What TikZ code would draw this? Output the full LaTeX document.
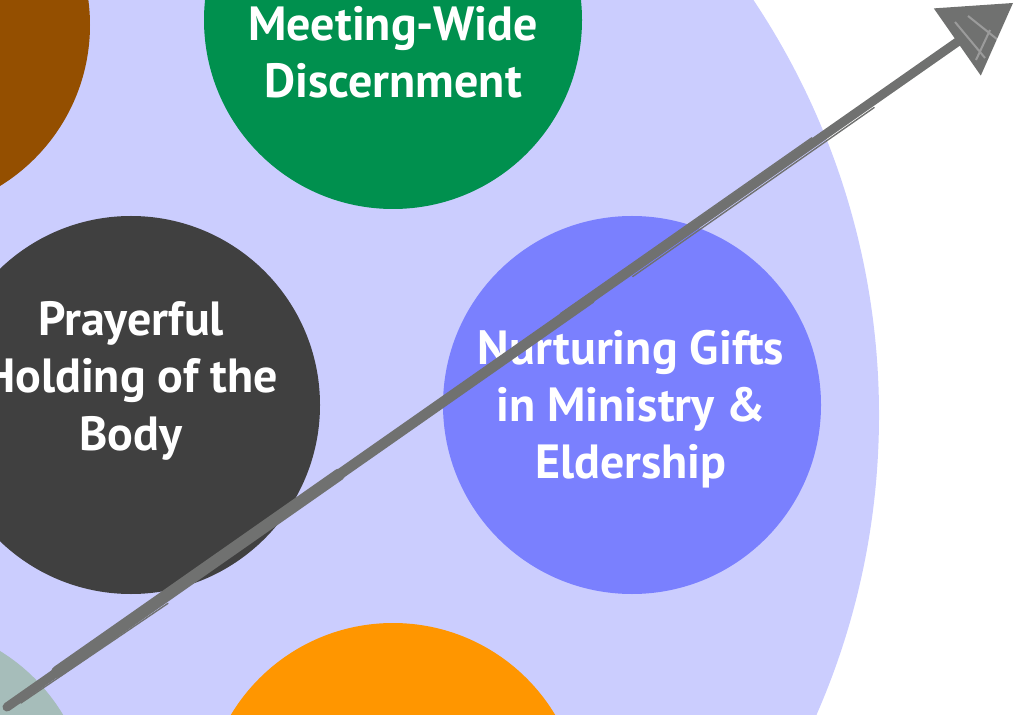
\documentclass[tikz,border=0pt]{standalone}
\usepackage{fontspec}
\setmainfont{PT Sans}
\usetikzlibrary{arrows.meta,calc}
\definecolor{ringbg}{RGB}{203,205,254}
\definecolor{rustbrown}{RGB}{148,79,0}
\definecolor{meetgreen}{RGB}{0,144,78}
\definecolor{prayergray}{RGB}{64,64,64}
\definecolor{giftblue}{RGB}{122,128,254}
\definecolor{sunorange}{RGB}{255,150,0}
\definecolor{sagegray}{RGB}{166,189,186}
\definecolor{brushgray}{RGB}{112,113,112}
\tikzset{
  bubble/.style={circle, draw=none, minimum size=189pt, inner sep=0pt},
  bubbletext/.style={text=white, align=center, anchor=base,
    font=\fontsize{24}{28.5}\selectfont\bfseries},
  brush/.style={draw=brushgray, line width=4.5pt, line cap=round},
  streak/.style={draw=brushgray, line width=0.7pt, line cap=round}
}

\begin{document}
\begin{tikzpicture}[x=0.5pt, y=-0.5pt]
\useasboundingbox (0,0) rectangle (1015,715);
\clip (0,0) rectangle (1015,715);
% the large ring and the circles on it
\node[circle, fill=ringbg, minimum size=748pt, inner sep=0pt] (ring) at (131,415) {};
\node[bubble, fill=rustbrown] (rust) at (-99,25) {};
\node[bubble, fill=meetgreen] (discern) at (393,20) {};
\node[bubble, fill=prayergray] (prayer) at (131,405) {};
\node[bubble, fill=giftblue] (gifts) at (632,405) {};
\node[bubble, fill=sunorange] (sun) at (393,812) {};
\node[bubble, fill=sagegray] (sage) at (-99,812) {};
% labels (anchored on the last line)
\node[bubbletext] (discerntxt) at (393,98) {Meeting-Wide\\Discernment};
\node[bubbletext] (prayertxt) at (131,450) {Prayerful\\Holding of the\\Body};
\node[bubbletext] (giftstxt) at (631,478) {Nurturing Gifts\\in Ministry \&\\Eldership};
% sketched arrow
\coordinate (tail) at (7,707);
\coordinate (tip) at (1013,3);
\draw[brush, -{Triangle[length=34pt,width=41pt,line width=0pt]}] (tail) -- (tip);
\draw[brush, line width=6pt] ($(tail)!0.05!(tip)$) -- ($(tail)!0.33!(tip)$);
\draw[brush, line width=5.2pt] ($(tail)!0.30!(tip)$) -- ($(tail)!0.58!(tip)$);
\draw[streak] ($(tail)+(2,-2)$) -- ($(tail)!0.10!(tip)+(2,5)$);
\draw[streak] ($(tail)+(14,-4)$) -- ($(tail)!0.16!(tip)+(0,9)$);
\draw[streak] ($(tail)!0.55!(tip)+(0,-6)$) -- ($(tail)!0.80!(tip)+(0,-6)$);
\draw[streak] ($(tail)!0.62!(tip)+(2,6)$) -- ($(tail)!0.86!(tip)+(2,6)$);
\draw[white, opacity=.3, line width=1pt] (955,22) -- (985,58) (968,16) -- (998,40) (976,60) -- (990,30);
\end{tikzpicture}
\end{document}
